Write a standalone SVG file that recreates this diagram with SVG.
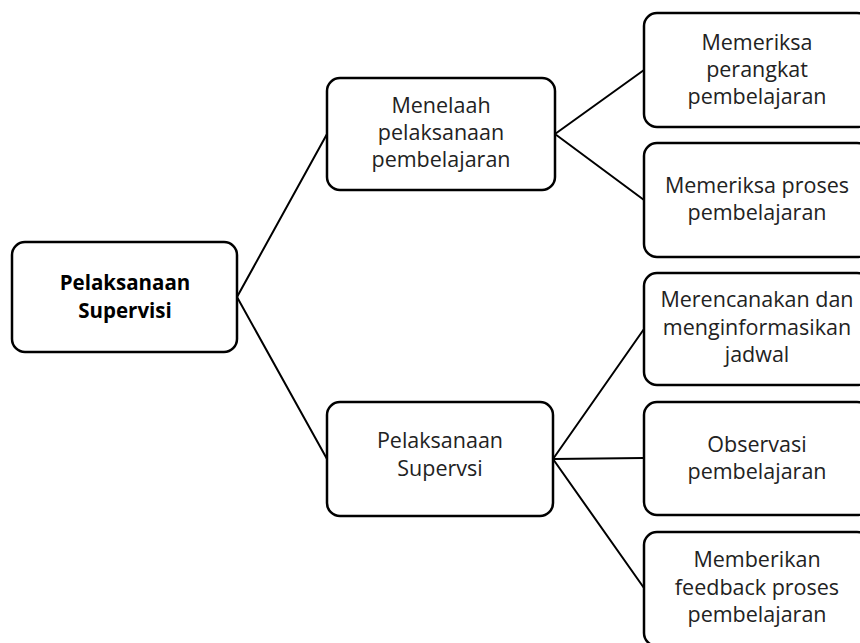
<svg xmlns="http://www.w3.org/2000/svg" width="860" height="643" viewBox="0 0 860 643">
<style>
.box{fill:#fff;stroke:#000;stroke-width:2.5}
.t{font-family:"Open Sans","Liberation Sans",sans-serif;font-size:21.5px;fill:#222;text-anchor:middle}
.b{font-weight:bold;fill:#000;font-size:20.5px}
.c{stroke:#000;stroke-width:2;fill:none}
</style>
<rect width="860" height="643" fill="#fff"/>
<g id="connectors">
<path class="c" d="M237,297 L327,134 M237,297 L327,459"/>
<path class="c" d="M555,134 L644,70 M555,134 L644,200"/>
<path class="c" d="M553,459 L644,329 M553,459 L644,458 M553,459 L644,588"/>
</g>
<g id="root">
<rect class="box" x="12" y="242" width="225" height="110" rx="13"/>
<text class="t b" x="125" y="290">Pelaksanaan</text>
<text class="t b" x="125" y="318">Supervisi</text>
</g>
<g id="menelaah">
<rect class="box" x="327" y="78" width="228" height="112" rx="13"/>
<text class="t" x="441" y="113">Menelaah</text>
<text class="t" x="441" y="140">pelaksanaan</text>
<text class="t" x="441" y="167">pembelajaran</text>
</g>
<g id="pelaksanaan">
<rect class="box" x="327" y="402" width="226" height="114" rx="13"/>
<text class="t" x="440" y="448">Pelaksanaan</text>
<text class="t" x="440" y="476">Supervsi</text>
</g>
<g id="perangkat">
<rect class="box" x="644" y="13" width="226" height="114" rx="13"/>
<text class="t" x="757" y="50">Memeriksa</text>
<text class="t" x="757" y="77">perangkat</text>
<text class="t" x="757" y="104">pembelajaran</text>
</g>
<g id="proses">
<rect class="box" x="644" y="143" width="226" height="114" rx="13"/>
<text class="t" x="757" y="193">Memeriksa proses</text>
<text class="t" x="757" y="220">pembelajaran</text>
</g>
<g id="jadwal">
<rect class="box" x="644" y="273" width="226" height="112" rx="13"/>
<text class="t" x="757" y="307">Merencanakan dan</text>
<text class="t" x="757" y="335">menginformasikan</text>
<text class="t" x="757" y="362">jadwal</text>
</g>
<g id="observasi">
<rect class="box" x="644" y="402" width="226" height="113" rx="13"/>
<text class="t" x="757" y="452">Observasi</text>
<text class="t" x="757" y="479">pembelajaran</text>
</g>
<g id="feedback">
<rect class="box" x="644" y="532" width="226" height="114" rx="13"/>
<text class="t" x="757" y="567">Memberikan</text>
<text class="t" x="757" y="595">feedback proses</text>
<text class="t" x="757" y="622">pembelajaran</text>
</g>
</svg>
